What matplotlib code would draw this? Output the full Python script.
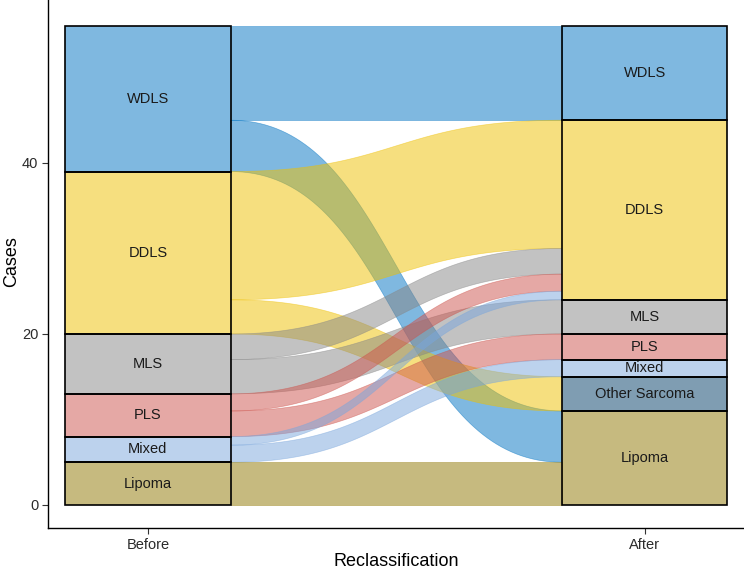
import numpy as np
import matplotlib.pyplot as plt
from matplotlib.patches import Polygon, Rectangle

# strata, top to bottom
before_levels = ["WDLS", "DDLS", "MLS", "PLS", "Mixed", "Lipoma"]
after_levels = ["WDLS", "DDLS", "MLS", "PLS", "Mixed", "Other Sarcoma", "Lipoma"]

# flows: before -> after, cases
flow_from = ["WDLS", "WDLS", "DDLS", "DDLS", "MLS", "MLS", "PLS", "PLS", "Mixed", "Mixed", "Lipoma"]
flow_to = ["WDLS", "Lipoma", "DDLS", "Other Sarcoma", "DDLS", "MLS", "DDLS", "PLS", "DDLS", "Mixed", "Lipoma"]
flow_n = [11, 6, 15, 4, 3, 4, 2, 3, 1, 2, 5]

# jco palette, drawn at alpha 0.5
colors = {
    "WDLS": "#0073C2",
    "DDLS": "#EFC000",
    "MLS": "#868686",
    "PLS": "#CD534C",
    "Mixed": "#7AA6DC",
    "Other Sarcoma": "#003C67",
    "Lipoma": "#8F7700",
}
ALPHA = 0.5
W = 1 / 3


def stack(levels, key):
    # stratum extents, first level on top
    totals = {lv: 0 for lv in levels}
    for f, t, n in zip(flow_from, flow_to, flow_n):
        totals[key(f, t)] += n
    ext = {}
    y = 0
    for lv in reversed(levels):
        ext[lv] = (y, y + totals[lv])
        y += totals[lv]
    return ext


before_ext = stack(before_levels, lambda f, t: f)
after_ext = stack(after_levels, lambda f, t: t)

idx = range(len(flow_n))
# left side: inside a stratum order flows by destination (top first)
left_pos = {}
for lv in before_levels:
    ids = [i for i in idx if flow_from[i] == lv]
    ids.sort(key=lambda i: after_levels.index(flow_to[i]))
    top = before_ext[lv][1]
    for i in ids:
        left_pos[i] = (top - flow_n[i], top)
        top -= flow_n[i]
# right side: order by origin
right_pos = {}
for lv in after_levels:
    ids = [i for i in idx if flow_to[i] == lv]
    ids.sort(key=lambda i: before_levels.index(flow_from[i]))
    top = after_ext[lv][1]
    for i in ids:
        right_pos[i] = (top - flow_n[i], top)
        top -= flow_n[i]

fig = plt.figure(figsize=(7.44, 5.71), dpi=100)
ax = fig.add_axes([48 / 744, 43 / 571, 1 - 48 / 744, 1 - 43 / 571])

x0, x1 = 1 + W / 2, 2 - W / 2
t = np.linspace(0, 1, 80)


def curve(ya, yb):
    # cubic bezier between the two strata
    k = 0.5
    xs = (1 - t) ** 3 * x0 + 3 * (1 - t) ** 2 * t * (x0 + k * (x1 - x0)) \
        + 3 * (1 - t) * t ** 2 * (x1 - k * (x1 - x0)) + t ** 3 * x1
    ys = (1 - t) ** 3 * ya + 3 * (1 - t) ** 2 * t * ya + 3 * (1 - t) * t ** 2 * yb + t ** 3 * yb
    return xs, ys


for i in idx:
    (lb, lt), (rb, rt) = left_pos[i], right_pos[i]
    xt, yt = curve(lt, rt)
    xb, yb = curve(lb, rb)
    pts = np.vstack([np.column_stack([xt, yt]), np.column_stack([xb[::-1], yb[::-1]])])
    ax.add_patch(Polygon(pts, closed=True, facecolor=colors[flow_from[i]],
                         alpha=ALPHA, edgecolor=colors[flow_from[i]], lw=0.5, zorder=2))

for xc, levels, ext in [(1, before_levels, before_ext), (2, after_levels, after_ext)]:
    for lv in levels:
        lo, hi = ext[lv]
        ax.add_patch(Rectangle((xc - W / 2, lo), W, hi - lo, facecolor=colors[lv],
                               alpha=ALPHA, edgecolor="none", zorder=3))
        ax.add_patch(Rectangle((xc - W / 2, lo), W, hi - lo, facecolor="none",
                               edgecolor="black", lw=1.2, zorder=4))
        ax.text(xc, (lo + hi) / 2, lv, ha="center", va="center", fontsize=10.5,
                family="Liberation Sans", color="#1a1a1a", zorder=5)

ax.set_xlim(0.799, 2.2)
ax.set_ylim(-2.69, 59.06)
ax.set_xticks([1, 2])
ax.set_xticklabels(["Before", "After"])
ax.set_yticks([0, 20, 40])
for lab in ax.get_xticklabels() + ax.get_yticklabels():
    lab.set_family("Liberation Sans")
    lab.set_fontsize(10.5)
    lab.set_color("#2b2b2b")
ax.tick_params(length=4, width=0.8, color="#333333", pad=3)
fig.text(12 / 744, 1 - 262 / 571, "Cases", ha="center", va="center", rotation=90,
         fontsize=13, family="Liberation Sans")
fig.text((148 + 645) / 2 / 744, 1 - 562 / 571, "Reclassification", ha="center", va="center",
         fontsize=13, family="Liberation Sans")
ax.spines["top"].set_visible(False)
ax.spines["right"].set_visible(False)
for s in ["left", "bottom"]:
    ax.spines[s].set_linewidth(1.0)

fig.savefig("out.png", dpi=100)
